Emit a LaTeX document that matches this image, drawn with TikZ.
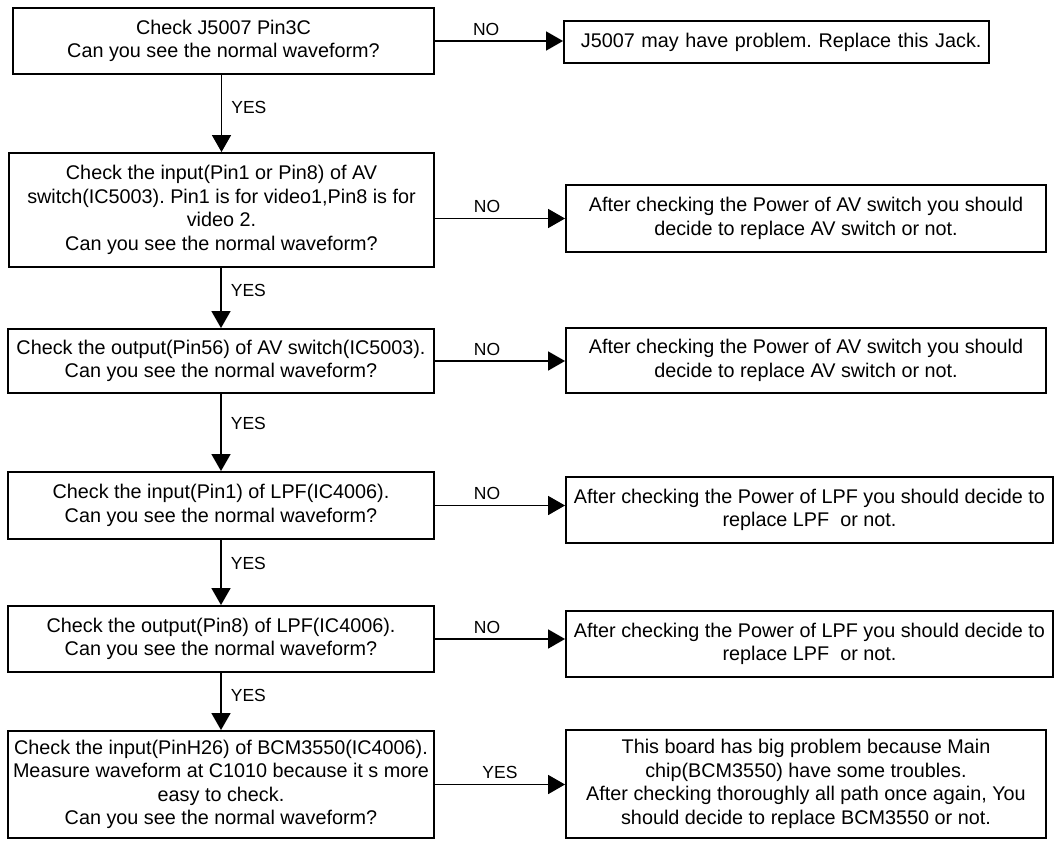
\documentclass[tikz,border=0pt]{standalone}
\usepackage{fontspec}
\setmainfont{Liberation Sans}
\frenchspacing
\usetikzlibrary{arrows.meta}
\begin{document}
\begin{tikzpicture}[x=1pt,y=-1pt,
  box/.style={draw,line width=1.9pt,align=center,inner xsep=3pt,inner ysep=2pt,
    font=\fontsize{19.8}{23.5}\selectfont},
  flow/.style={line width=1.7pt,-{Triangle[length=17pt,width=19pt]}},
  yes/.style={anchor=west,inner sep=0pt,xshift=9pt,font=\fontsize{17.5}{20}\selectfont},
  no/.style={inner sep=0pt,yshift=12pt,font=\fontsize{17.5}{20}\selectfont}]
\useasboundingbox (0,0) rectangle (1054,840);

% left column: checks
\node[box,minimum width=421pt,minimum height=66pt] (L1) at (223.5,41)
  {Check J5007 Pin3C\\Can you see the normal waveform?};
\node[box,minimum width=425pt,minimum height=114pt] (L2) at (221.5,210)
  {Check the input(Pin1 or Pin8) of AV\\switch(IC5003). Pin1 is for video1,Pin8 is for\\video 2.\\Can you see the normal waveform?};
\node[box,minimum width=426pt,minimum height=64pt] (L3) at (221,361)
  {Check the output(Pin56) of AV switch(IC5003).\\Can you see the normal waveform?};
\node[box,minimum width=426pt,minimum height=67pt] (L4) at (221,505.5)
  {Check the input(Pin1) of LPF(IC4006).\\Can you see the normal waveform?};
\node[box,minimum width=426pt,minimum height=66pt] (L5) at (221,639)
  {Check the output(Pin8) of LPF(IC4006).\\Can you see the normal waveform?};
\node[box,minimum width=426pt,minimum height=107pt] (L6) at (221,784.5)
  {Check the input(PinH26) of BCM3550(IC4006).\\Measure waveform at C1010 because it s more\\easy to check.\\Can you see the normal waveform?};

% right column: actions
\node[box,minimum width=425pt,minimum height=42pt,text width=410pt,align=right] (R1) at (776.5,42)
  {J5007 may have problem. Replace this Jack.};
\node[box,minimum width=480pt,minimum height=67pt] (R2) at (806,218.5)
  {After checking the Power of AV switch you should\\decide to replace AV switch or not.};
\node[box,minimum width=480pt,minimum height=65pt] (R3) at (806,360.5)
  {After checking the Power of AV switch you should\\decide to replace AV switch or not.};
\node[box,minimum width=487pt,minimum height=66pt] (R4) at (809.5,510)
  {After checking the Power of LPF you should decide to\\replace LPF~ or not.};
\node[box,minimum width=487pt,minimum height=66pt] (R5) at (809.5,644)
  {After checking the Power of LPF you should decide to\\replace LPF~ or not.};
\node[box,minimum width=480pt,minimum height=108pt] (R6) at (806,784)
  {This board has big problem because Main\\chip(BCM3550) have some troubles.\\After checking thoroughly all path once again, You\\should decide to replace BCM3550 or not.};

% YES branches
\draw[flow] (L1.south -| L2.north) -- node[yes,pos=0.42]{YES} (L2.north);
\draw[flow] (L3.north |- L2.south) -- node[yes,pos=0.37]{YES} (L3.north);
\draw[flow] (L3.south) -- node[yes,pos=0.38]{YES} (L4.north);
\draw[flow] (L4.south) -- node[yes,pos=0.36]{YES} (L5.north);
\draw[flow] (L5.south) -- node[yes,pos=0.39]{YES} (L6.north);

% NO branches
\draw[flow] (L1.east) -- node[no,pos=0.4]{NO} (L1.east -| R1.west);
\draw[flow] (L2.east |- R2.west) -- node[no,pos=0.4]{NO} (R2.west);
\draw[flow] (L3.east) -- node[no,pos=0.4]{NO} (L3.east -| R3.west);
\draw[flow] (L4.east) -- node[no,pos=0.4]{NO} (L4.east -| R4.west);
\draw[flow] (L5.east) -- node[no,pos=0.4]{NO} (L5.east -| R5.west);
\draw[flow] (L6.east) -- node[no,pos=0.5]{YES} (L6.east -| R6.west);
\end{tikzpicture}
\end{document}
